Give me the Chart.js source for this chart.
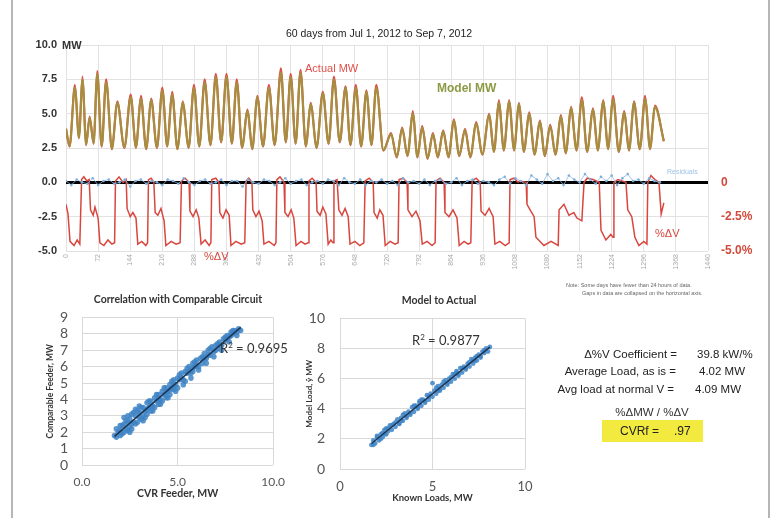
<!DOCTYPE html>
<html><head><meta charset="utf-8">
<script src="https://cdn.jsdelivr.net/npm/chart.js@4.4.1/dist/chart.umd.min.js"></script>
<style>
body{margin:0;background:#fff;width:774px;height:518px;overflow:hidden;position:relative;font-family:"Liberation Sans",Arial,sans-serif;}
.t{position:absolute;white-space:nowrap;line-height:1;}
.c{transform:translate(-50%,-50%);}
.l{transform:translate(0,-50%);}
.r{transform:translate(-100%,-50%);}
canvas{position:absolute;}
</style></head><body>
<div style="position:absolute;left:11px;top:0;width:2px;height:518px;background:#b5b5b5"></div>
<div style="position:absolute;left:768px;top:0;width:2px;height:518px;background:#b5b5b5"></div>

<canvas id="top" width="774" height="290" style="left:0;top:0"></canvas>
<canvas id="sc1" width="254" height="209" style="left:41px;top:295px"></canvas>
<canvas id="sc2" width="244" height="213" style="left:301px;top:295px"></canvas>

<div class="t c" style="left:379px;top:33px;font-size:10.5px;color:#222">60 days from Jul 1, 2012 to Sep 7, 2012</div>
<div class="t l" style="left:62px;top:45px;font-size:11px;font-weight:bold;color:#333">MW</div>
<div class="t l" style="left:305px;top:68px;font-size:11px;color:#e0504a">Actual MW</div>
<div class="t l" style="left:437px;top:88px;font-size:12px;font-weight:bold;color:#8d9a45">Model MW</div>
<div class="t l" style="left:667px;top:171px;font-size:7px;color:#9cc3e6">Residuals</div>
<div class="t l" style="left:655px;top:233px;font-size:11px;color:#d8463e">%ΔV</div>
<div class="t l" style="left:204px;top:256px;font-size:11px;color:#d8463e">%ΔV</div>
<div class="t l" style="left:566px;top:286px;font-size:5.5px;color:#666">Note: Some days have fewer than 24 hours of data.</div>
<div class="t l" style="left:582px;top:294px;font-size:5.5px;color:#666">Gaps in data are collapsed on the horizontal axis.</div>

<div class="t c" style="left:178px;top:299px;font-family:Lato;font-weight:bold;font-size:10.5px;color:#333">Correlation with Comparable Circuit</div>
<div class="t c" style="left:439px;top:300px;font-family:Lato;font-weight:bold;font-size:10.5px;color:#333">Model to Actual</div>
<div class="t l" style="left:220px;top:348px;font-family:Lato;font-size:13px;color:#333">R<sup style="font-size:8px">2</sup> = 0.9695</div>
<div class="t l" style="left:412px;top:340px;font-family:Lato;font-size:13px;color:#333">R<sup style="font-size:8px">2</sup> = 0.9877</div>

<div class="t r" style="left:677px;top:355px;font-size:11.5px;color:#222">Δ%V Coefficient =</div>
<div class="t l" style="left:697px;top:355px;font-size:11.5px;color:#222">39.8 kW/%</div>
<div class="t r" style="left:676px;top:372px;font-size:11.5px;color:#222">Average Load, as is =</div>
<div class="t l" style="left:699px;top:372px;font-size:11.5px;color:#222">4.02 MW</div>
<div class="t r" style="left:674px;top:390px;font-size:11.5px;color:#222">Avg load at normal V =</div>
<div class="t l" style="left:695px;top:390px;font-size:11.5px;color:#222">4.09 MW</div>
<div class="t c" style="left:652px;top:413px;font-size:11.5px;color:#333">%ΔMW / %ΔV</div>
<div style="position:absolute;left:602px;top:420px;width:101px;height:22px;background:#f2ea3e"></div>
<div class="t l" style="left:620px;top:431px;font-size:12px;color:#222">CVRf =</div>
<div class="t l" style="left:674px;top:431px;font-size:12px;color:#222">.97</div>

<script>
// ---------- Top chart data ----------
const xTickHours = [0,72,144,216,288,360,432,504,576,648,720,792,864,936,1008,1080,1152,1224,1296,1368,1440];
const loadHours = [0,8,20,29,37,45,53,62,70,80,90,103,115,131,145,157,168,180,191,204,216,227,238,250,262,275,287,299,311,324,336,348,360,372,383,395,407,418,429,442,455,468,482,493,504,515,526,538,549,562,576,589,601,614,627,638,650,662,674,685,696,712,729,742,754,766,778,788,799,811,823,834,846,858,870,882,895,907,920,934,949,960,971,982,994,1005,1016,1027,1039,1051,1063,1074,1086,1098,1110,1121,1133,1145,1157,1169,1182,1193,1205,1216,1227,1240,1252,1263,1274,1287,1299,1310,1321,1341];
const actualMW = [3.9,2.6,7.1,3.2,7.7,2.7,4.8,2.8,8.1,2.6,7.5,2.4,5.9,2.5,6.4,2.5,6.3,2.4,6.1,2.5,6.9,2.6,6.6,2.4,5.9,2.5,7.1,2.6,7.5,2.7,7.9,2.9,7.9,2.8,7.5,2.5,5.3,2.4,6.3,2.6,7.1,2.7,8.3,2.9,7.9,2.8,8.2,2.6,5.8,2.5,6.6,2.8,7.7,2.9,7.0,2.7,7.1,2.6,6.7,2.7,7.1,2.3,3.6,1.8,4.0,1.9,5.2,1.8,4.1,1.7,3.6,1.8,3.8,1.8,4.6,1.9,3.9,1.8,4.4,2.0,5.0,2.2,6.0,2.3,6.0,2.3,5.8,2.2,5.1,2.0,4.5,1.9,4.2,2.0,4.9,2.1,5.5,2.3,6.2,2.2,5.4,2.3,6.0,2.4,6.3,2.2,5.2,2.3,5.9,2.4,6.3,2.4,5.6,3.0];
const modelMW = [3.9,2.65,6.9,3.25,7.5,2.75,4.7,2.85,7.9,2.65,7.3,2.45,5.8,2.55,6.2,2.55,6.1,2.45,6.0,2.55,6.7,2.65,6.4,2.45,5.8,2.55,6.9,2.65,7.3,2.75,7.7,2.95,7.7,2.85,7.3,2.55,5.2,2.45,6.2,2.65,6.9,2.75,8.0,2.95,7.7,2.85,8.0,2.65,5.7,2.55,6.5,2.85,7.5,2.95,6.9,2.75,6.9,2.65,6.6,2.75,6.9,2.35,3.5,1.85,3.9,1.95,5.0,1.85,4.0,1.75,3.5,1.85,3.7,1.85,4.5,1.95,3.8,1.85,4.3,2.05,4.9,2.25,5.8,2.35,5.9,2.35,5.7,2.25,5.0,2.05,4.4,1.95,4.1,2.05,4.8,2.15,5.4,2.35,6.0,2.25,5.3,2.35,5.9,2.45,6.1,2.25,5.1,2.35,5.8,2.45,6.1,2.45,5.5,3.0];
const dvHours = [0,4.5,9,18,25,31,35,40,47,52,55,61,65,72,76,85,94,103,109,111,119,128,135,137,144,150,157,161,170,179,183,185,191,197,200,206,213,220,224,236,247,256,259,267,276,278,285,292,298,303,312,321,325,327,336,343,345,352,359,366,370,381,393,401,404,410,417,419,426,433,440,444,455,467,471,473,480,489,491,498,505,511,516,527,536,543,545,552,561,563,570,576,583,588,594,599,601,608,612,619,626,633,637,648,659,668,671,680,689,691,698,704,711,716,727,738,745,747,756,765,767,776,785,794,799,810,821,828,830,839,848,850,859,868,877,882,893,902,908,911,920,929,931,940,949,958,962,973,985,994,996,1005,1014,1018,1032,1034,1041,1050,1054,1072,1088,1104,1106,1117,1128,1139,1146,1157,1162,1169,1182,1196,1200,1211,1222,1227,1229,1238,1256,1260,1269,1276,1285,1296,1303,1305,1312,1321,1330,1335,1341];
const dvPct = [-1.6,-2.3,-4.3,-4.6,-4.2,-4.5,0.2,0.4,0.1,0.2,-2.0,-2.4,-1.8,-2.6,-4.4,-4.6,-4.2,-4.5,-4.4,0.1,0.4,0.0,0.2,-1.9,-2.5,-2.2,-2.6,-4.5,-4.3,-4.6,-4.4,0.2,0.3,0.0,-2.2,-2.4,-1.9,-2.8,-4.6,-4.3,-4.5,-4.4,0.1,0.3,0.0,-2.1,-2.5,-2.0,-2.6,-4.5,-4.2,-4.6,-4.4,0.2,0.3,0.0,-2.2,-2.6,-2.0,-2.4,-4.6,-4.3,-4.5,-4.4,0.1,0.3,0.0,-2.0,-2.5,-2.1,-2.8,-4.5,-4.3,-4.6,-4.4,0.2,0.4,0.0,-2.2,-2.5,-2.0,-2.6,-4.6,-4.3,-4.5,-4.4,0.1,0.3,0.0,-2.1,-2.4,-1.8,-2.3,-4.5,-4.2,-4.4,0.1,0.2,-2.0,-2.4,-1.9,-2.5,-4.5,-4.3,-4.6,-4.4,0.1,0.3,0.0,-2.2,-2.6,-2.0,-2.4,-4.6,-4.3,-4.5,-4.4,0.2,0.3,0.0,-2.0,-2.5,-2.1,-2.8,-4.5,-4.3,-4.6,-4.4,0.1,0.3,0.0,-2.2,-2.5,-2.0,-2.6,-4.6,-4.3,-4.5,-4.4,0.1,0.3,0.0,-2.1,-2.4,-1.9,-2.5,-4.5,-4.3,-4.6,-4.4,0.2,0.3,0.0,0.1,0.0,-1.6,-2.0,-2.5,-4.0,-4.6,-4.3,-4.6,-2.0,-1.6,-2.4,-2.2,-2.6,-2.8,0.0,0.3,0.2,0.0,-3.5,-4.2,-3.8,-4.0,0.0,0.2,0.0,-2.0,-2.5,-4.0,-4.6,-4.3,-4.5,0.0,0.5,0.2,0.0,-2.3,-1.5];
const residMW = [0.1,-0.2,0.2,0.0,-0.1,0.3,-0.2,0.1,0.2,-0.1,0.0,0.2,-0.3,0.1,0.2,-0.1,0.1,0.0,-0.2,0.2,0.1,-0.1,0.3,0.0,-0.2,0.1,0.2,-0.1,0.0,0.2,-0.2,0.1,0.1,-0.3,0.2,0.0,-0.1,0.2,0.1,-0.2,0.0,0.3,-0.1,0.1,0.2,-0.2,0.0,0.1,-0.1,0.2,0.1,-0.2,0.3,0.0,-0.1,0.2,-0.2,0.1,0.0,0.2,-0.1,0.1,-0.2,0.3,0.0,0.1,-0.1,0.2,-0.2,0.1,0.2,-0.1,0.0,0.3,-0.2,0.1,0.2,-0.1,0.1,0.0,-0.2,0.2,0.4,-0.1,0.3,0.1,-0.2,0.5,0.2,-0.1,0.6,0.1,0.3,-0.2,0.5,0.2,0.0,0.6,0.2,-0.1,0.4,0.1,0.5,-0.2,0.3,0.6,0.1,0.2,-0.1,0.3,0.1,0.0];
const residStepHours = 12;

// ---------- Scatter data ----------
const cvrFeederMW = [1.7,1.8,1.9,2.0,2.0,2.1,2.2,2.2,2.3,2.4,2.4,2.5,2.5,2.6,2.6,2.7,2.8,2.8,2.9,3.0,3.0,3.1,3.2,3.2,3.3,3.4,3.4,3.5,3.6,3.6,3.7,3.8,3.8,3.9,4.0,4.0,4.1,4.2,4.2,4.3,4.4,4.4,4.5,4.6,4.6,4.7,4.8,4.8,4.9,5.0,5.0,5.1,5.2,5.3,5.4,5.4,5.5,5.6,5.7,5.8,5.8,5.9,6.0,6.1,6.2,6.3,6.4,6.5,6.6,6.7,6.8,6.9,7.0,7.1,7.2,7.3,7.4,7.5,7.6,7.7,7.8,7.9,8.0,8.1,8.2,
  1.8,2.1,2.3,2.5,2.7,2.9,3.1,3.3,3.5,3.7,3.9,4.1,4.3,4.5,4.7,4.9,5.1,5.3,5.5,5.7,5.9,6.1,6.3,6.5,6.7,6.9,7.1,7.3,7.5,7.7,7.9,8.1,2.2,2.6,3.4,3.0,4.0,4.6,5.2,5.8,6.4,7.0,7.6,2.0,2.4,2.8,3.2,3.6,4.4,4.8,5.6,6.0,6.6,7.2,7.8,8.3];
const comparableMW = [1.8,1.7,2.0,2.1,1.8,2.4,2.0,2.5,2.2,2.6,2.1,2.8,2.3,2.5,3.1,2.6,3.0,2.5,3.3,2.9,3.2,2.8,3.5,3.0,3.3,3.8,3.1,3.5,3.9,3.3,3.6,4.1,3.5,3.9,4.3,3.7,4.0,4.5,3.9,4.3,4.7,4.1,4.5,4.9,4.3,4.7,5.2,4.6,4.9,5.3,4.7,5.2,5.6,5.2,5.7,5.1,5.6,6.0,5.6,6.2,5.7,6.0,6.4,6.0,6.5,6.2,6.8,6.5,7.0,6.7,7.2,6.9,7.3,7.1,7.5,7.3,7.7,7.6,7.9,7.8,8.1,8.0,8.2,8.1,8.3,
  2.2,1.9,2.7,2.0,3.2,2.6,3.5,2.9,3.9,3.3,4.3,3.7,4.7,4.1,5.1,4.5,5.5,4.9,5.9,5.3,6.3,5.8,6.6,6.2,7.1,6.6,7.4,7.0,7.8,7.5,8.2,7.9,2.9,2.2,3.4,3.6,4.0,4.6,5.3,5.9,6.5,7.0,7.7,2.4,3.0,3.4,2.7,3.6,4.4,4.9,5.7,6.1,6.7,7.3,7.9,8.2];
const knownMW = [1.7,1.8,1.9,2.0,2.1,2.2,2.3,2.4,2.5,2.5,2.6,2.7,2.8,2.9,3.0,3.1,3.2,3.3,3.4,3.5,3.6,3.7,3.8,3.9,4.0,4.1,4.2,4.3,4.4,4.5,4.6,4.7,4.8,4.9,5.0,5.0,5.1,5.2,5.3,5.4,5.5,5.6,5.7,5.8,5.9,6.0,6.1,6.2,6.3,6.4,6.5,6.6,6.7,6.8,6.9,7.0,7.1,7.2,7.3,7.4,7.5,7.6,7.7,7.8,7.9,8.0,8.1,
  1.8,2.0,2.2,2.4,2.6,2.8,3.0,3.2,3.4,3.6,3.8,4.0,4.2,4.4,4.6,4.8,5.2,5.4,5.6,5.8,6.0,6.2,6.4,6.6,6.8,7.0,7.2,7.4,7.6,7.8,2.3,3.3,4.3,5.3,6.3,7.3];
const modelLoadMW = [1.6,1.9,1.7,2.1,1.9,2.3,2.1,2.6,2.3,2.7,2.5,2.9,2.6,3.0,2.8,3.3,3.0,3.4,3.2,3.7,3.4,3.8,3.6,4.1,3.8,4.2,4.0,4.5,4.2,4.6,4.4,4.9,4.6,5.0,4.8,5.7,5.2,5.0,5.5,5.2,5.6,5.4,5.9,5.6,6.0,5.8,6.3,6.0,6.4,6.2,6.7,6.4,6.8,6.6,7.0,6.8,7.3,7.0,7.4,7.2,7.6,7.4,7.8,7.7,8.0,7.8,8.1,
  1.6,2.2,2.0,2.3,2.7,2.9,3.1,3.0,3.6,3.5,3.7,4.2,4.1,4.6,4.5,4.8,5.4,5.3,5.8,5.7,6.1,6.3,6.3,6.7,6.7,7.1,7.2,7.5,7.5,7.9,2.4,3.2,4.4,5.2,6.5,7.2];

// ---------- helpers ----------
function pts(xs, ys){ return xs.map((x,i)=>({x:x, y:ys[i]})); }
function fitLine(xs, ys){
  const n=xs.length; let sx=0,sy=0,sxx=0,sxy=0;
  for(let i=0;i<n;i++){sx+=xs[i];sy+=ys[i];sxx+=xs[i]*xs[i];sxy+=xs[i]*ys[i];}
  const b=(n*sxy-sx*sy)/(n*sxx-sx*sx), a=(sy-b*sx)/n;
  const x0=Math.min(...xs), x1=Math.max(...xs);
  return [{x:x0,y:a+b*x0},{x:x1,y:a+b*x1}];
}
const noAnim = {animation:false, responsive:false, events:[]};

// ---------- Top chart (first dataset is drawn on top) ----------
new Chart(document.getElementById('top'), {
  type:'line',
  data:{datasets:[
    {label:'Residuals', data: residMW.map((v,i)=>({x:i*residStepHours, y:v})), yAxisID:'y',
     borderColor:'rgba(140,185,228,0.8)', borderWidth:1, pointRadius:1.3, pointBorderWidth:0,
     pointBackgroundColor:'#7fb0dd', tension:0},
    {label:'Model MW', data: pts(loadHours, modelMW), yAxisID:'y',
     borderColor:'#a88c40', borderWidth:2.3, pointRadius:0, cubicInterpolationMode:'monotone'},
    {label:'Actual MW', data: pts(loadHours, actualMW), yAxisID:'y',
     borderColor:'#dc4e48', borderWidth:2, pointRadius:0, cubicInterpolationMode:'monotone'},
    {label:'%ΔV', data: pts(dvHours, dvPct), yAxisID:'y2',
     borderColor:'#d8463e', borderWidth:1.5, pointRadius:0, tension:0}
  ]},
  options:{...noAnim,
    layout:{padding:{top:45,left:0,right:0,bottom:0}},
    plugins:{legend:{display:false}, tooltip:{enabled:false}},
    scales:{
      x:{type:'linear', min:0, max:1440,
         afterBuildTicks:s=>{s.ticks = xTickHours.map(v=>({value:v}));},
         ticks:{autoSkip:false, minRotation:90, maxRotation:90, color:'#aaa', callback:v=>String(v),
                font:{family:'Liberation Sans', size:7}, padding:3},
         grid:{color:'#e2e2e2', drawTicks:false}, border:{display:false},
         afterFit:s=>{s.height=39;}},
      y:{min:-5, max:10,
         ticks:{stepSize:2.5, callback:v=>v.toFixed(1), color:'#333',
                font:{family:'Liberation Sans', size:11, weight:'bold'}, padding:9},
         grid:{color:c=>c.tick && c.tick.value===0 ? '#000' : '#e2e2e2',
               lineWidth:c=>c.tick && c.tick.value===0 ? 3 : 1, drawTicks:false},
         border:{display:false}, afterFit:s=>{s.width=66;}},
      y2:{position:'right', min:-5, max:10,
         ticks:{stepSize:2.5, callback:v=> v>0 ? '' : (v===0 ? '0' : v.toFixed(1)+'%'),
                color:'#d24a3c', font:{family:'Liberation Sans', size:12, weight:'bold'}, padding:13},
         grid:{display:false, drawTicks:false}, border:{display:false},
         afterFit:s=>{s.width=66;}}
    }}
});

// ---------- Scatter 1 ----------
new Chart(document.getElementById('sc1'), {
  type:'scatter',
  data:{datasets:[
    {type:'line', data: fitLine(cvrFeederMW, comparableMW), borderColor:'#1d3550',
     borderWidth:1.5, pointRadius:0},
    {data: pts(cvrFeederMW, comparableMW), pointRadius:2.8, pointBorderWidth:0,
     pointBackgroundColor:'rgba(62,132,198,0.85)'}
  ]},
  options:{...noAnim,
    layout:{padding:{top:16,right:12,left:0,bottom:0}},
    plugins:{legend:{display:false}, tooltip:{enabled:false}},
    scales:{
      x:{type:'linear', min:0, max:10,
         ticks:{stepSize:5, callback:v=>v.toFixed(1), color:'#555', maxRotation:0,
                font:{family:'Lato', size:12}, padding:10},
         grid:{color:'#d9d9d9', drawTicks:false}, border:{display:false},
         title:{display:true, text:'CVR Feeder, MW', color:'#333',
                font:{family:'Lato', size:10.5, weight:'bold'}, padding:{top:0,bottom:4}},
         afterFit:s=>{s.height=39;}},
      y:{min:0, max:9,
         ticks:{stepSize:1, autoSkip:false, color:'#555', font:{family:'Lato', size:14}, padding:14},
         grid:{color:'#d9d9d9', drawTicks:false}, border:{display:false},
         title:{display:true, text:'Comparable Feeder, MW', color:'#333',
                font:{family:'Lato', size:8.5, weight:'bold'}, padding:{top:4,bottom:0}},
         afterFit:s=>{s.width=41;}}
    }}
});

// ---------- Scatter 2 ----------
new Chart(document.getElementById('sc2'), {
  type:'scatter',
  data:{datasets:[
    {type:'line', data: fitLine(knownMW, modelLoadMW), borderColor:'#1d3550',
     borderWidth:1.5, pointRadius:0},
    {data: pts(knownMW, modelLoadMW), pointRadius:2.4, pointBorderWidth:0,
     pointBackgroundColor:'rgba(62,132,198,0.85)'}
  ]},
  options:{...noAnim,
    layout:{padding:{top:20,right:20,left:0,bottom:0}},
    plugins:{legend:{display:false}, tooltip:{enabled:false}},
    scales:{
      x:{type:'linear', min:0, max:10,
         ticks:{stepSize:5, color:'#555', maxRotation:0, font:{family:'Lato', size:13}, padding:10},
         grid:{color:'#d9d9d9', drawTicks:false}, border:{display:false},
         title:{display:true, text:'Known Loads, MW', color:'#333',
                font:{family:'Lato', size:9.5, weight:'bold'}, padding:{top:0,bottom:4}},
         afterFit:s=>{s.height=39;}},
      y:{min:0, max:10,
         ticks:{stepSize:2, autoSkip:false, color:'#555', font:{family:'Lato', size:14}, padding:15},
         grid:{color:'#d9d9d9', drawTicks:false}, border:{display:false},
         title:{display:true, text:'Model Load, ŷ MW', color:'#333',
                font:{family:'Lato', size:8, weight:'bold'}, padding:{top:4,bottom:0}},
         afterFit:s=>{s.width=39;}}
    }}
});
</script>
</body></html>
